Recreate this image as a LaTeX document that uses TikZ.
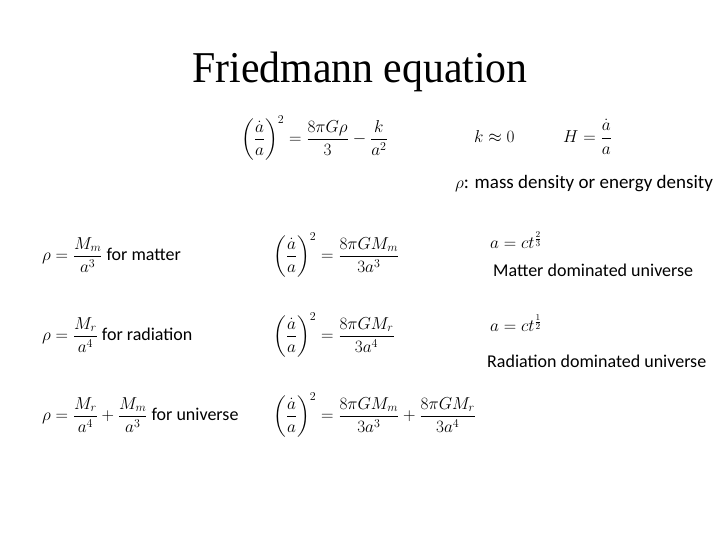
\documentclass[tikz,border=0pt]{standalone}
\usepackage{amsmath}
\usepackage{fontspec}
\setmainfont{Carlito}
\newfontfamily\titlefont{Liberation Serif}
\begin{document}
\begin{tikzpicture}[x=1pt,y=1pt,
  eq/.style={inner sep=0pt,font=\fontsize{18}{21}\selectfont},
  lbl/.style={inner sep=0pt,font=\fontsize{18}{21}\selectfont}]
\useasboundingbox (0,0) rectangle (720,540);
\node[inner sep=0pt,font=\titlefont\fontsize{44}{46}\selectfont,xscale=0.95] (title) at (360,468) {Friedmann equation};
\node[eq,anchor=west] (f) at (241,402) {$\displaystyle\left(\frac{\dot a}{a}\right)^{2}=\frac{8\pi G\rho}{3}-\frac{k}{a^{2}}$};
\node[eq,anchor=west] (k) at (474,403) {$k\approx 0$};
\node[eq,anchor=west] (H) at (563,403) {$H=\dfrac{\dot a}{a}$};
\node[eq,anchor=west,font=\fontsize{19}{22}\selectfont] (rho) at (455,356) {$\rho$: mass density or energy density};
\node[eq,anchor=west] (r1) at (42,285) {$\rho=\dfrac{M_m}{a^{3}}$ for matter};
\node[eq,anchor=west] (e1) at (273,285) {$\displaystyle\left(\frac{\dot a}{a}\right)^{2}=\frac{8\pi GM_m}{3a^{3}}$};
\node[eq,anchor=west] (s1) at (490,300) {$a=ct^{\frac{2}{3}}$};
\node[lbl,anchor=west] (m1) at (493,270) {Matter dominated universe};
\node[eq,anchor=west] (r2) at (42,205) {$\rho=\dfrac{M_r}{a^{4}}$ for radiation};
\node[eq,anchor=west] (e2) at (273,205) {$\displaystyle\left(\frac{\dot a}{a}\right)^{2}=\frac{8\pi GM_r}{3a^{4}}$};
\node[eq,anchor=west] (s2) at (490,217) {$a=ct^{\frac{1}{2}}$};
\node[lbl,anchor=west] (m2) at (487,179) {Radiation dominated universe};
\node[eq,anchor=west] (r3) at (42,125) {$\rho=\dfrac{M_r}{a^{4}}+\dfrac{M_m}{a^{3}}$ for universe};
\node[eq,anchor=west] (e3) at (273,125) {$\displaystyle\left(\frac{\dot a}{a}\right)^{2}=\frac{8\pi GM_m}{3a^{3}}+\frac{8\pi GM_r}{3a^{4}}$};
\end{tikzpicture}
\end{document}
